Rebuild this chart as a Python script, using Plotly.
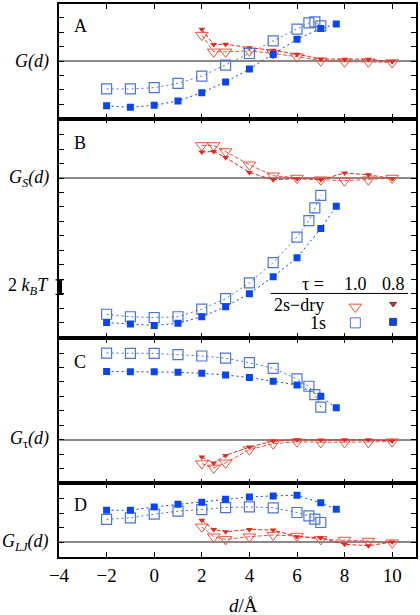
import plotly.graph_objects as go

# ---------------- data ----------------
x_sq_open = [-2, -1, 0, 1, 2, 3, 4, 5, 6, 6.5, 6.75, 7]
x_sq_fill = [-2, -1, 0, 1, 2, 3, 4, 5, 6, 7, 7.65]
x_tri = [2, 2.5, 3, 4, 5, 6, 7, 8, 9, 10]

A_sq_open = [-3.86, -3.86, -3.68, -3.08, -2.07, -0.55, 1.05, 2.8, 4.41, 5.28, 5.42, 4.87]
A_sq_fill = [-6.2, -6.4, -6.12, -5.52, -4.37, -2.9, -1.1, 0.91, 3.03, 4.5, 5.14]
A_tri_open = [3.59, 1.28, 1.28, 1.42, 1.05, 0.6, 0.04, -0.1, -0.1, -0.2]
A_tri_fill = [4.41, 2.3, 2.34, 1.84, 1.51, 0.96, 0.27, 0.27, 0.27, -0.1]

B_sq_open = [-18.85, -19.2, -19.3, -19.2, -18.15, -16.7, -14.5, -11.7, -8.18, -5.88, -4.14, -2.39]
B_sq_fill = [-20.0, -20.2, -20.4, -20.1, -19.2, -17.8, -16.0, -13.66, -11.03, -6.99, -3.9]
B_tri_open = [4.51, 4.51, 3.68, 1.84, 0.32, 0.0, -0.23, -0.37, -0.23, 0.0]
B_tri_fill = [3.59, 3.68, 2.85, 0.78, -0.23, -0.09, -0.23, 0.69, 0.46, -0.09]

C_sq_open = [12.0, 11.95, 11.95, 11.77, 11.59, 11.3, 10.66, 9.88, 8.41, 7.4, 6.25, 4.5]
C_sq_fill = [9.46, 9.42, 9.42, 9.33, 9.19, 8.97, 8.6, 8.09, 7.59, 6.02, 4.41]
C_tri_open = [-3.31, -3.91, -3.2, -1.38, -0.55, -0.28, -0.37, -0.37, -0.37, -0.28]
C_tri_fill = [-2.4, -3.22, -2.17, -1.02, -0.18, 0.0, -0.05, 0.0, 0.0, -0.18]

D_sq_open = [3.13, 3.36, 3.86, 4.28, 4.5, 4.78, 4.87, 4.74, 4.09, 3.63, 3.17, 2.71]
D_sq_fill = [4.41, 4.41, 4.87, 5.24, 5.52, 5.93, 6.25, 6.39, 6.48, 5.43, 4.55]
D_tri_open = [2.11, 0.74, 0.37, 0.74, 0.97, 0.83, 0.37, 0.28, 0.14, -0.09]
D_tri_fill = [3.03, 1.75, 1.43, 1.75, 1.66, 0.74, 0.6, -0.32, -0.5, 0.0]

panel_letters = ["A", "B", "C", "D"]
panel_ylabels = ["<i>G(d)</i>", "<i>G<sub>S</sub>(d)</i>", "<i>G</i><sub>τ</sub><i>(d)</i>", "<i>G<sub>LJ</sub>(d)</i>"]
x_ticks = [-4, -2, 0, 2, 4, 6, 8, 10]

# ---------------- styling ----------------
FONT = "Liberation Serif, Times New Roman, serif"
RED_O = "#f0503c"
RED_F = "#e3281c"
BLUE_O = "#4d74d6"
BLUE_F = "#0a46f0"
W, H = 420, 615
L, R, T, B = 59, 2, 2, 58
PW, PH = W - L - R, H - T - B

# panel pixel extents (top, bottom) and y ranges
panels_px = [(2, 117), (117, 337), (337, 483), (483, 557)]
y_ranges = [(-7.96, 7.90), (-22.11, 8.23), (-6.03, 14.11), (-2.07, 8.14)]
x_range = (-4, 11)


def py(px):
    return (H - B - px) / PH


def pxx(px):
    return (px - L) / PW


fig = go.Figure()

series = [
    (A_sq_open, A_sq_fill, A_tri_open, A_tri_fill),
    (B_sq_open, B_sq_fill, B_tri_open, B_tri_fill),
    (C_sq_open, C_sq_fill, C_tri_open, C_tri_fill),
    (D_sq_open, D_sq_fill, D_tri_open, D_tri_fill),
]

for i, (sqo, sqf, tro, trf) in enumerate(series):
    k = "" if i == 0 else str(i + 1)
    xa, ya = "x" + k, "y" + k
    fig.add_trace(go.Scatter(x=x_tri, y=tro, xaxis=xa, yaxis=ya, mode="lines+markers",
                             line=dict(color=RED_O, width=1, dash="4px,2px"),
                             marker=dict(symbol="triangle-down-open", size=11, color=RED_O, line=dict(width=1)),
                             showlegend=False))
    fig.add_trace(go.Scatter(x=x_tri, y=trf, xaxis=xa, yaxis=ya, mode="lines+markers",
                             line=dict(color=RED_F, width=1, dash="4px,2px"),
                             marker=dict(symbol="triangle-down", size=6, color=RED_F),
                             showlegend=False))
    fig.add_trace(go.Scatter(x=x_sq_open, y=sqo, xaxis=xa, yaxis=ya, mode="lines+markers",
                             line=dict(color=BLUE_O, width=1, dash="2px,3px"),
                             marker=dict(symbol="square-open", size=10, color=BLUE_O, line=dict(width=1.2)),
                             showlegend=False))
    fig.add_trace(go.Scatter(x=x_sq_fill, y=sqf, xaxis=xa, yaxis=ya, mode="lines+markers",
                             line=dict(color=BLUE_F, width=1, dash="2px,3px"),
                             marker=dict(symbol="square", size=7, color=BLUE_F),
                             showlegend=False))

layout = dict(
    width=W, height=H,
    margin=dict(l=L, r=R, t=T, b=B),
    paper_bgcolor="white", plot_bgcolor="white",
    font=dict(family=FONT, size=18, color="black"),
    showlegend=False,
)

for i in range(4):
    k = "" if i == 0 else str(i + 1)
    top, bot = panels_px[i]
    layout["xaxis" + k] = dict(
        domain=[0, 1], anchor="y" + k, range=list(x_range),
        tickvals=x_ticks, ticks="inside", ticklen=5, tickwidth=1, tickcolor="black",
        showticklabels=(i == 3), showgrid=False, zeroline=False,
        showline=True, linecolor="black", linewidth=1.5, mirror="ticks",
        tickfont=dict(family=FONT, size=19),
        matches=None if i == 0 else "x",
    )
    layout["yaxis" + k] = dict(
        domain=[py(bot), py(top)], anchor="x" + k, range=list(y_ranges[i]),
        dtick=2, tick0=0, ticks="inside", ticklen=5, tickwidth=1, tickcolor="black",
        showticklabels=False, showgrid=False,
        zeroline=True, zerolinecolor="#8a8a8a", zerolinewidth=1.5,
        showline=True, linecolor="black", linewidth=1.5, mirror="ticks",
    )

fig.update_layout(**layout)

annotations = []
shapes = []
letter_px = [24, 142, 361, 505]
zero_px = [59.3, 176.7, 439.3, 542]
for i in range(4):
    annotations.append(dict(text=panel_letters[i], xref="paper", yref="paper",
                            x=pxx(72), y=py(letter_px[i]), xanchor="left", yanchor="middle",
                            showarrow=False, font=dict(family=FONT, size=18)))
    annotations.append(dict(text=panel_ylabels[i], xref="paper", yref="paper",
                            x=pxx(51), y=py(zero_px[i]), xanchor="right", yanchor="middle",
                            showarrow=False, font=dict(family=FONT, size=18)))

# 2 kBT scale bar
annotations.append(dict(text="2 <i>k<sub>B</sub>T</i>", xref="paper", yref="paper",
                        x=pxx(51), y=py(286), xanchor="right", yanchor="middle",
                        showarrow=False, font=dict(family=FONT, size=18)))
shapes.append(dict(type="line", xref="paper", yref="y2", x0=pxx(59.5), x1=pxx(59.5),
                   y0=-14.1, y1=-16.1, line=dict(color="black", width=5)))
for yb in (-14.1, -16.1):
    shapes.append(dict(type="line", xref="paper", yref="y2", x0=pxx(55.5), x1=pxx(63.5),
                       y0=yb, y1=yb, line=dict(color="black", width=1.2)))

# legend table in panel B
annotations += [
    dict(text="τ =", x=pxx(314), y=py(283)),
    dict(text="1.0", x=pxx(357), y=py(283)),
    dict(text="0.8", x=pxx(395), y=py(283)),
    dict(text="2s−dry", x=pxx(300), y=py(304.5)),
    dict(text="1s", x=pxx(319), y=py(322.5)),
]
for a in annotations[-5:]:
    a.update(xref="paper", yref="paper", showarrow=False, xanchor="center", yanchor="middle",
             font=dict(family=FONT, size=18), borderpad=0)
shapes.append(dict(type="line", xref="paper", yref="paper", x0=pxx(272), x1=pxx(410),
                   y0=py(292.5), y1=py(292.5), line=dict(color="black", width=1)))


def xdat(px):
    return x_range[0] + (px - L) / PW * (x_range[1] - x_range[0])


def ydatB(px):
    top, bot = panels_px[1]
    y0, y1 = y_ranges[1]
    return y1 - (px - top) / (bot - top) * (y1 - y0)


leg = [
    (357, 306, "triangle-down-open", 11, RED_O),
    (395, 303, "triangle-down", 6, RED_F),
    (357, 322, "square-open", 10, BLUE_O),
    (395, 321, "square", 7, BLUE_F),
]
for lx, ly, sym, sz, col in leg:
    fig.add_trace(go.Scatter(x=[xdat(lx)], y=[ydatB(ly)], xaxis="x2", yaxis="y2", mode="markers",
                             marker=dict(symbol=sym, size=sz, color=col, line=dict(width=1)),
                             showlegend=False, cliponaxis=False))

# x-axis title
annotations.append(dict(text="<i>d</i>/Å", xref="paper", yref="paper", x=pxx(245), y=py(606),
                        xanchor="center", yanchor="middle", showarrow=False,
                        font=dict(family=FONT, size=19)))

fig.update_layout(annotations=annotations, shapes=shapes)
fig.write_html("out.html", config={"displayModeBar": False},
               post_script="document.body.style.margin='0';document.body.style.overflow='hidden';")
